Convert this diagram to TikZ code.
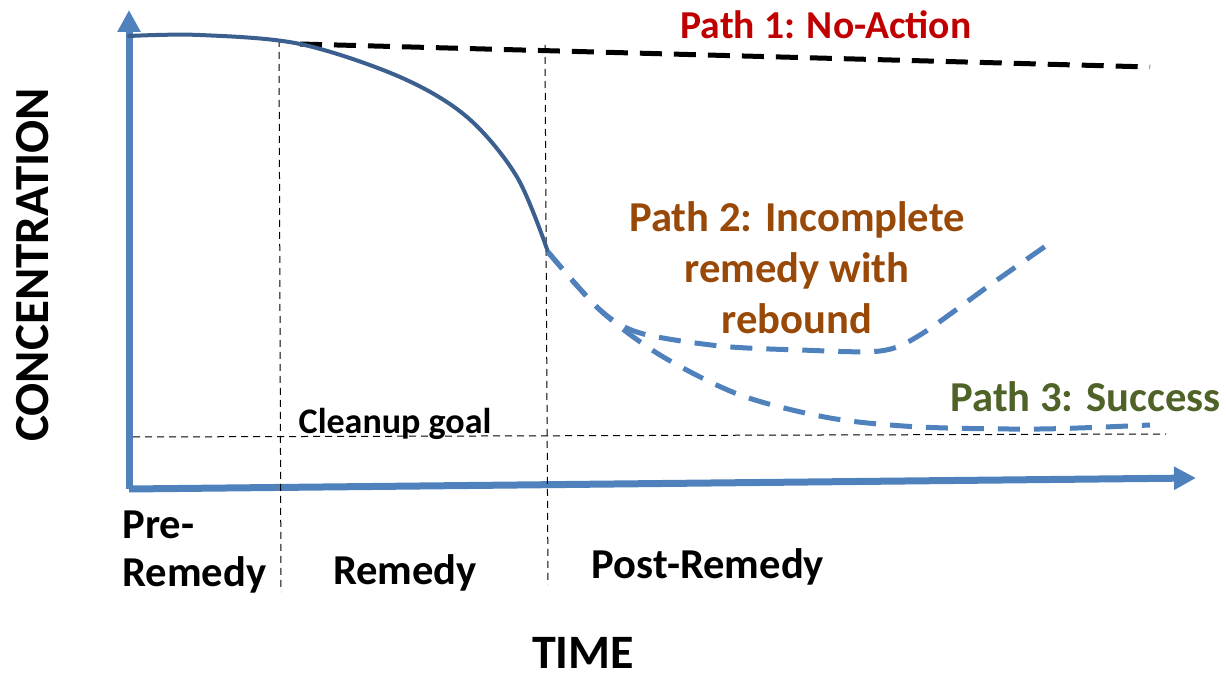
\documentclass[tikz,border=0pt]{standalone}
\usepackage{fontspec}
\setmainfont{Carlito}
\usetikzlibrary{arrows.meta,positioning}
\definecolor{axisblue}{HTML}{4F81BD}
\definecolor{curveblue}{HTML}{3B5F8E}
\definecolor{pathred}{HTML}{C00000}
\definecolor{pathbrown}{HTML}{984807}
\definecolor{pathgreen}{HTML}{4F6228}
\tikzset{
  axisline/.style={axisblue, line width=3.5pt, -{Triangle[length=11pt,width=11pt]}},
  phaseline/.style={black, line width=0.5pt, dash pattern=on 3.5pt off 2.5pt},
  pathdash/.style={axisblue, line width=2.5pt, dash pattern=on 11pt off 7pt},
  lbl/.style={font=\fontsize{21.3}{25.5}\selectfont\bfseries, inner sep=0pt}
}
\begin{document}
\begin{tikzpicture}[x=0.5pt, y=-0.5pt]
    \useasboundingbox (0,0) rectangle (1226,678);
    % axes
    \coordinate (O) at (129,489);
    \coordinate (ytip) at (129,10);
    \coordinate (xtip) at (1196,478);
    \draw[axisline] (O) -- (ytip);
    \draw[axisline] (O) -- (xtip);
    % phase borders and cleanup goal
    \coordinate (b1top) at (279,40);
    \coordinate (b1bot) at (281,592);
    \coordinate (b2top) at (545,45);
    \coordinate (b2bot) at (548,585);
    \coordinate (goalL) at (133,437);
    \coordinate (goalR) at (1166,434);
    \draw[phaseline] (b1top) -- (b1bot);
    \draw[phaseline] (b2top) -- (b2bot);
    \draw[phaseline] (goalL) -- (goalR);
    % path 1: no action
    \coordinate (split) at (300,44);
    \coordinate (noact) at (1150,67);
    \draw[black, line width=2.5pt, dash pattern=on 11pt off 6pt] (split) -- (noact);
    % remedy curve
    \coordinate (start) at (129,36);
    \coordinate (drop) at (548,252);
    \draw[curveblue, line width=2pt, line cap=round]
      plot[smooth, tension=0.55] coordinates {(start) (200,35) (split) (400,77) (467,117) (517,177) (drop)};
    % path 2 and path 3
    \draw[pathdash] plot[smooth, tension=0.5] coordinates
      {(drop) (600,310) (640,333) (720,346) (800,350) (880,351) (920,335) (990,285) (1050,243)};
    \draw[pathdash] plot[smooth, tension=0.5] coordinates
      {(drop) (600,310) (660,355) (740,395) (830,418) (920,427) (1040,429) (1150,425)};
    % labels
    \node[lbl, pathred, font=\fontsize{19.8}{24}\selectfont\bfseries] (p1) at (826,25) {Path 1: No-Action};
    \node[lbl, pathbrown, align=center] (p2) at (797,268) {Path 2: Incomplete\\remedy with\\rebound};
    \node[lbl, pathgreen, anchor=east] (p3) at (1221,397) {Path 3: Success};
    \node[inner sep=0pt, font=\fontsize{18}{20}\selectfont\bfseries] (goal) at (395,424) {Cleanup goal};
    \node[lbl, align=left, anchor=west, font=\fontsize{21.3}{24}\selectfont\bfseries] (pre) at (122,552) {Pre-\\Remedy};
    \node[lbl] (rem) at (405,573) {Remedy};
    \node[lbl] (post) at (708,567) {Post-Remedy};
    \node[lbl, font=\fontsize{24}{26}\selectfont\bfseries] (time) at (583,653) {TIME};
    \node[lbl, font=\fontsize{24.5}{26}\selectfont\bfseries, rotate=90] (conc) at (33,265) {CONCENTRATION};
  \end{tikzpicture}
\end{document}
